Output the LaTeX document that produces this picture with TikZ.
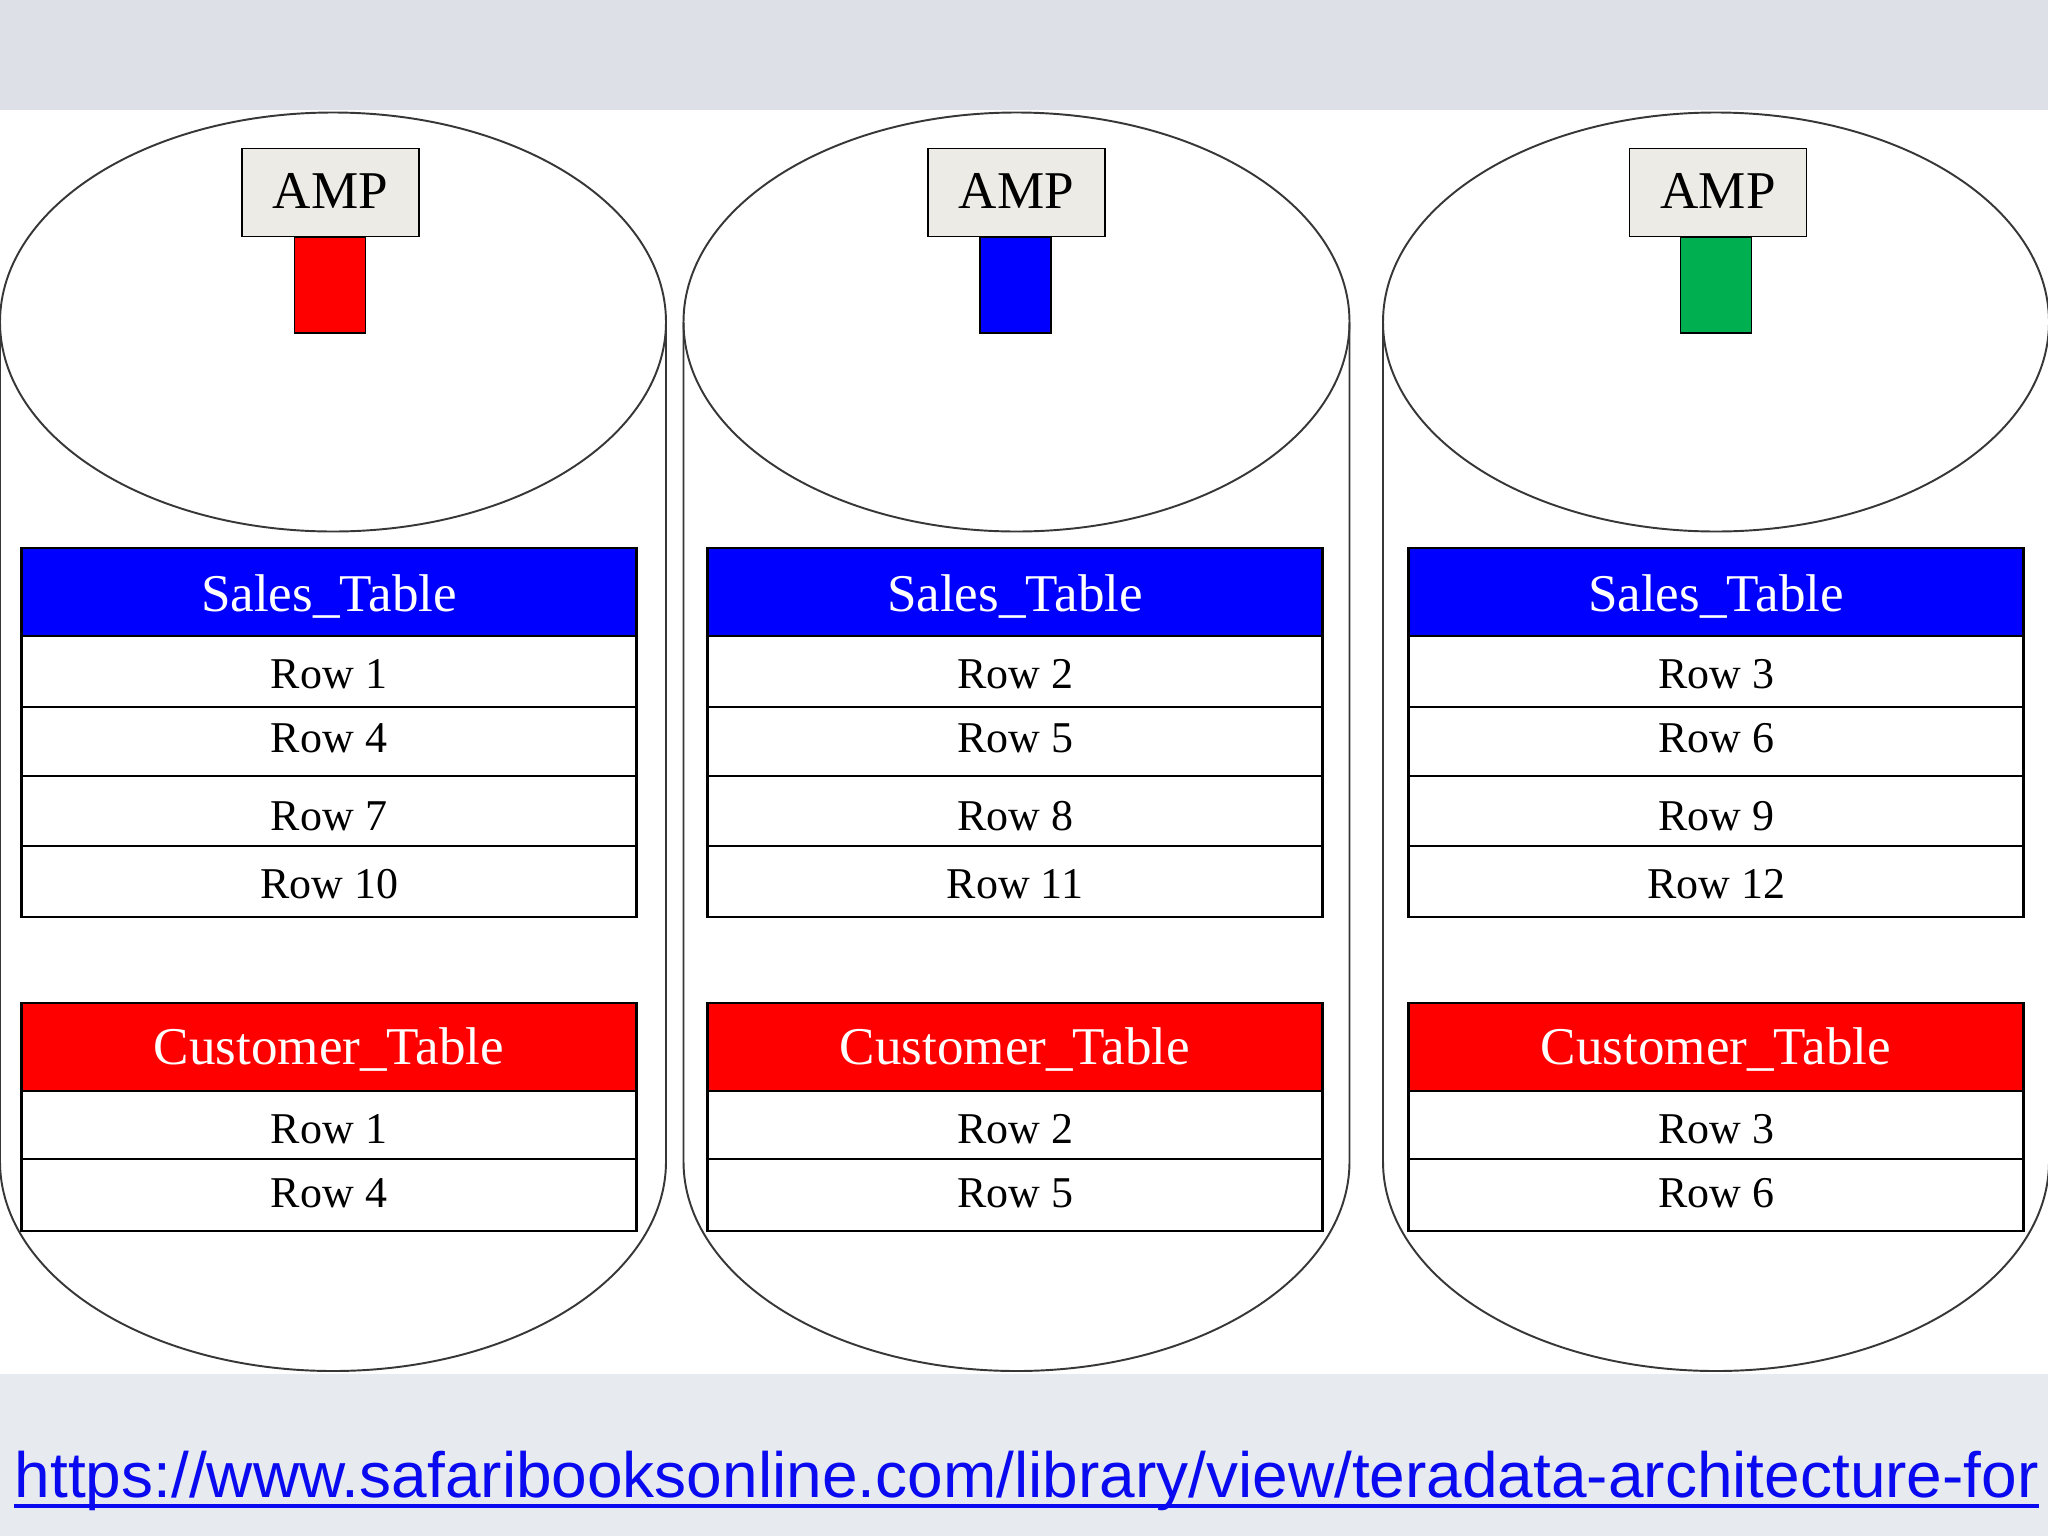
\documentclass[tikz,border=0pt]{standalone}
\usepackage{fontspec}
\setmainfont{Liberation Serif}
\newfontfamily\urlfont{Liberation Sans}
\definecolor{bandgray}{RGB}{221,225,231}
\definecolor{bandgray2}{RGB}{231,234,238}
\definecolor{ampfill}{RGB}{236,235,229}
\definecolor{salesblue}{RGB}{0,0,255}
\definecolor{custred}{RGB}{255,0,0}
\definecolor{ampgreen}{RGB}{0,176,80}
\definecolor{urlblue}{RGB}{10,10,240}
\definecolor{cylline}{RGB}{55,55,55}
\tikzset{
  cyl/.style={draw=cylline, line width=0.55pt},
  tcell/.style={draw=black, line width=0.8pt, rectangle, inner sep=0pt,
    minimum width=6.14cm, text depth=0pt, fill=white,
    font=\fontsize{12.5pt}{14pt}\selectfont},
  thead/.style={tcell, text=white, font=\fontsize{15.1pt}{18pt}\selectfont},
  ampbox/.style={draw=black, line width=0.5pt, fill=ampfill, rectangle, inner sep=0pt,
    minimum width=1.77cm, minimum height=0.88cm, text height=0.31cm, text depth=0pt,
    font=\fontsize{15.1pt}{18pt}\selectfont},
  amprect/.style={draw=black, line width=0.5pt, rectangle, inner sep=0pt,
    minimum width=0.71cm, minimum height=0.96cm},
}
\begin{document}
\begin{tikzpicture}[x=0.01cm, y=-0.01cm]
\useasboundingbox (0,0) rectangle (2048,1536);
\fill[bandgray] (0,0) rectangle (2048,110);
\fill[white] (0,110) rectangle (2048,1374);
\fill[bandgray2] (0,1374) rectangle (2048,1536);

\foreach \i/\cx/\tx/\ax/\rx/\col in {1/333/329/330.5/330/custred, 2/1016.5/1015/1016.5/1015.5/salesblue, 3/1716/1716/1718/1716/ampgreen} {
  \pgfmathtruncatemacro{\ra}{\i}
  \pgfmathtruncatemacro{\rb}{\i+3}
  \pgfmathtruncatemacro{\rc}{\i+6}
  \pgfmathtruncatemacro{\rd}{\i+9}
  % cylinder
  \draw[cyl] (\cx,322) ellipse [x radius=333, y radius=209.5];
  \draw[cyl] (\cx-333,322) -- (\cx-333,1161.5)
     arc[start angle=180, end angle=0, x radius=333, y radius=209.5] -- (\cx+333,322);
  % AMP
  \node[ampbox] (amp\i) at (\ax,192.5) {AMP};
  \node[amprect, fill=\col, anchor=north] (disk\i) at (\rx,236) {};
  % Sales table
  \node[thead, fill=salesblue, minimum height=0.89cm, text height=0.37cm] (sales\i) at (\tx,592.5) {Sales\_Table};
  \node[tcell, minimum height=0.71cm, text height=0.34cm] (s\i-r1) at (\tx,671.5) {Row \ra};
  \node[tcell, minimum height=0.69cm, text height=0.21cm] (s\i-r2) at (\tx,741.5) {Row \rb};
  \node[tcell, minimum height=0.70cm, text height=0.38cm] (s\i-r3) at (\tx,811) {Row \rc};
  \node[tcell, minimum height=0.71cm, text height=0.33cm] (s\i-r4) at (\tx,881.5) {Row \rd};
  % Customer table
  \node[thead, fill=custred, minimum height=0.88cm, text height=0.34cm] (cust\i) at (\tx,1047) {Customer\_Table};
  \node[tcell, minimum height=0.68cm, text height=0.36cm] (c\i-r1) at (\tx,1125) {Row \ra};
  \node[tcell, minimum height=0.72cm, text height=0.24cm] (c\i-r2) at (\tx,1195) {Row \rb};
}

\node[anchor=base west, inner sep=0pt, text=urlblue, font=\urlfont\fontsize{18.2pt}{21pt}\selectfont] (url) at (14,1497)
  {https://www.safaribooksonline.com/library/view/teradata-architecture-for};
\draw[urlblue, line width=1.2pt] ([yshift=-0.09cm]url.base west) -- ([yshift=-0.09cm]url.base east);
\end{tikzpicture}
\end{document}
